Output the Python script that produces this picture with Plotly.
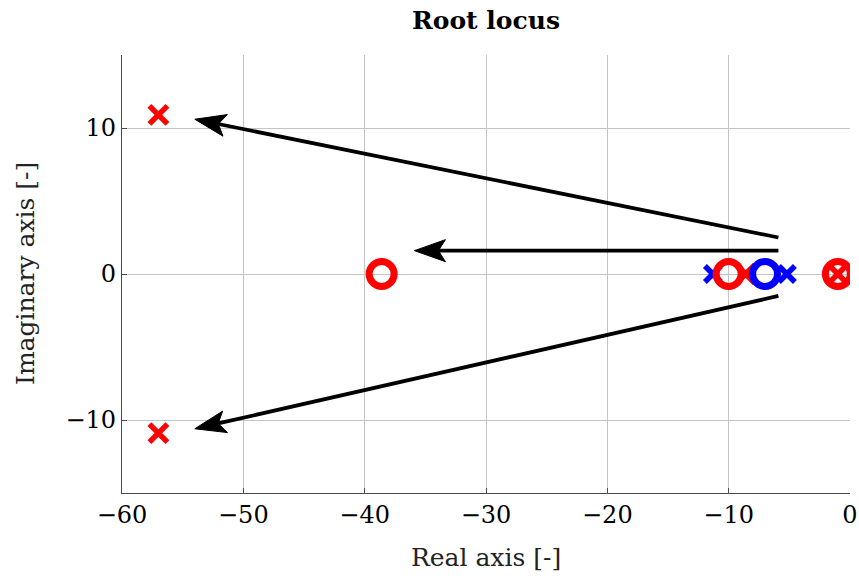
import numpy as np
import plotly.graph_objects as go

# Pole / zero locations (real, imaginary)
blue_poles_re = [-11.3, -5.2]
blue_poles_im = [0.0, 0.0]
blue_zeros_re = [-7.0]
blue_zeros_im = [0.0]
red_poles_re = [-57.0, -57.0, -8.6, -1.0]
red_poles_im = [10.9, -10.9, 0.0, 0.0]
red_zeros_re = [-38.6, -10.0, -1.0]
red_zeros_im = [0.0, 0.0, 0.0]

# Arrows showing how the roots move: (start_re, start_im, end_re, end_im)
arrow_start_re = [-5.9, -5.9, -5.9]
arrow_start_im = [2.5, 1.6, -1.5]
arrow_end_re = [-54.0, -35.9, -54.0]
arrow_end_im = [10.6, 1.6, -10.6]

x_range = [-60, 0]
y_range = [-15, 15]
x_ticks = [-60, -50, -40, -30, -20, -10, 0]
y_ticks = [-10, 0, 10]

W, H = 859, 576
ML, MR, MT, MB = 122, 9, 55, 83
RED = "#ff0000"
BLUE = "#0000ff"
FONT = "DejaVu Serif"

# pixel scale of the plotting area, used to shape arrowheads
sx = (W - ML - MR) / (x_range[1] - x_range[0])
sy = (H - MT - MB) / (y_range[1] - y_range[0])

fig = go.Figure()

fig.add_trace(go.Scatter(
    x=blue_poles_re, y=blue_poles_im, mode="markers",
    marker=dict(symbol="x-thin-open", size=16, color=BLUE,
                line=dict(color=BLUE, width=5.5)),
    showlegend=False, hoverinfo="x+y"))
fig.add_trace(go.Scatter(
    x=red_zeros_re, y=red_zeros_im, mode="markers",
    marker=dict(symbol="circle-open", size=25, color=RED,
                line=dict(color=RED, width=7)),
    showlegend=False, hoverinfo="x+y"))
fig.add_trace(go.Scatter(
    x=red_poles_re, y=red_poles_im, mode="markers",
    marker=dict(symbol="x-thin-open", size=18, color=RED,
                line=dict(color=RED, width=5.5)),
    showlegend=False, hoverinfo="x+y"))
fig.add_trace(go.Scatter(
    x=blue_zeros_re, y=blue_zeros_im, mode="markers",
    marker=dict(symbol="circle-open", size=25, color=BLUE,
                line=dict(color=BLUE, width=7)),
    showlegend=False, hoverinfo="x+y"))

# stealth-style arrowheads, built in pixel space then mapped back to data
HEAD_LEN, HEAD_HALF, NOTCH = 31.0, 11.0, 7.0
for x0, y0, x1, y1 in zip(arrow_start_re, arrow_start_im, arrow_end_re, arrow_end_im):
    dx, dy = (x1 - x0) * sx, (y1 - y0) * sy
    n = np.hypot(dx, dy)
    ux, uy = dx / n, dy / n          # unit direction (pixels, y up)
    px, py = -uy, ux                 # normal
    def to_data(ax, ay):
        return x1 + ax / sx, y1 + ay / sy
    left = to_data(-HEAD_LEN * ux + HEAD_HALF * px, -HEAD_LEN * uy + HEAD_HALF * py)
    right = to_data(-HEAD_LEN * ux - HEAD_HALF * px, -HEAD_LEN * uy - HEAD_HALF * py)
    notch = to_data(-(HEAD_LEN - NOTCH) * ux, -(HEAD_LEN - NOTCH) * uy)
    fig.add_trace(go.Scatter(
        x=[x0, notch[0]], y=[y0, notch[1]], mode="lines",
        line=dict(color="black", width=3.8), showlegend=False, hoverinfo="skip"))
    fig.add_trace(go.Scatter(
        x=[x1, left[0], notch[0], right[0], x1],
        y=[y1, left[1], notch[1], right[1], y1],
        mode="lines", fill="toself", fillcolor="black",
        line=dict(color="black", width=1), showlegend=False, hoverinfo="skip"))

axis_common = dict(
    showgrid=True, gridcolor="#c4c4c4", gridwidth=1,
    zeroline=False, showline=True, linecolor="#4a4a4a", linewidth=1.3,
    ticks="inside", ticklen=5, tickcolor="#4a4a4a",
    tickfont=dict(family=FONT, size=24, color="black"),
    mirror=False, automargin=False,
)

fig.update_layout(
    width=W, height=H,
    margin=dict(l=ML, r=MR, t=MT, b=MB, autoexpand=False),
    paper_bgcolor="white", plot_bgcolor="white",
    title=dict(text="<b>Root locus</b>", x=(ML + (W - ML - MR) / 2) / W, xanchor="center",
               y=1 - 20 / H, yanchor="middle", yref="container",
               font=dict(family=FONT, size=25, color="black")),
    xaxis=dict(range=x_range, tickvals=x_ticks, **axis_common),
    yaxis=dict(range=y_range, tickvals=y_ticks, **axis_common),
    annotations=[
        dict(text="Real axis [-]", xref="paper", yref="paper", x=0.5, y=0,
             xanchor="center", yanchor="middle", yshift=-64, showarrow=False,
             font=dict(family=FONT, size=25, color="#222")),
        dict(text="Imaginary axis [-]", xref="paper", yref="paper", x=0, y=0.5,
             xanchor="center", yanchor="middle", xshift=-97, textangle=-90,
             showarrow=False, font=dict(family=FONT, size=25, color="#222")),
    ],
)

fig.write_html("out.html")
